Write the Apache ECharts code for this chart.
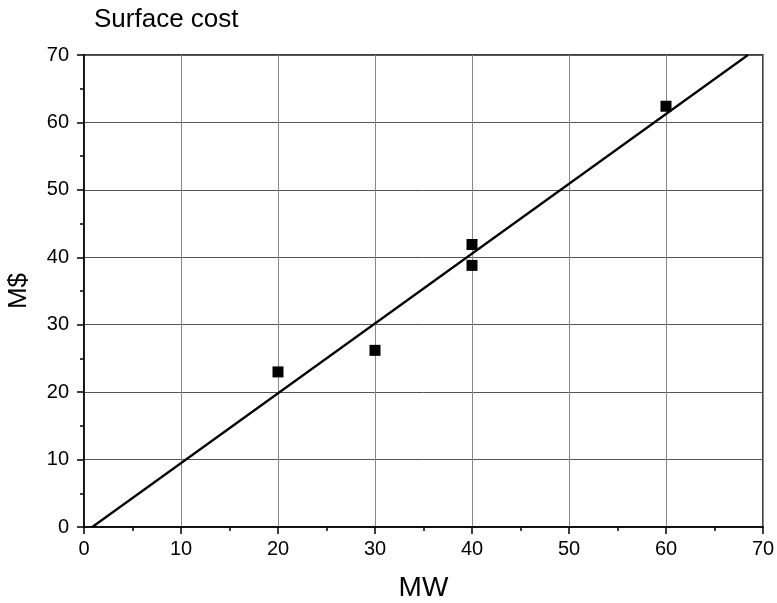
<!DOCTYPE html>
<html><head><meta charset="utf-8">
<script src="https://cdn.jsdelivr.net/npm/echarts@6/dist/echarts.min.js"></script>
<style>html,body{margin:0;padding:0;background:#fff}#c{width:777px;height:603px}</style>
</head><body><div id="c"></div>
<script>
const pointX = [20, 30, 40, 40, 60];
const pointY = [23.0, 26.2, 41.9, 38.8, 62.4];
const fitX = [0.85, 68.45];
const fitY = [0, 70];
const titleText = 'Surface cost';
const xName = 'MW';
const yName = 'M$';

const chart = echarts.init(document.getElementById('c'));
const font = 'Liberation Sans, Arial, sans-serif';
const axisCommon = {
  min: 0, max: 70, interval: 10,
  axisLine: { show: true, onZero: false, lineStyle: { color: '#000', width: 1.5 } },
  axisTick: { show: true, inside: false, length: 7, lineStyle: { color: '#000', width: 1.5 } },
  minorTick: { show: true, splitNumber: 2, length: 4, lineStyle: { color: '#000', width: 1.5 } }
};
chart.setOption({
  animation: false,
  backgroundColor: '#fff',
  title: { text: titleText, left: 89, top: 2, textStyle: { fontSize: 26, fontWeight: 'normal', color: '#000', fontFamily: font } },
  grid: { left: 84, right: 14, top: 55, bottom: 76, containLabel: false, outerBoundsMode: 'none',
    show: true, borderColor: '#000', borderWidth: 1.5, backgroundColor: 'transparent' },
  xAxis: Object.assign({}, axisCommon, {
    type: 'value', name: xName, nameLocation: 'middle', nameGap: 47,
    nameTextStyle: { color: '#000', fontSize: 28, fontFamily: font },
    axisLabel: { color: '#000', fontSize: 20, fontFamily: font, margin: 12 },
    splitLine: { show: true, lineStyle: { color: '#888', width: 1 } }
  }),
  yAxis: Object.assign({}, axisCommon, {
    type: 'value', name: yName, nameLocation: 'middle', nameGap: 52,
    nameTextStyle: { color: '#000', fontSize: 26, fontFamily: font },
    axisLabel: { color: '#000', fontSize: 20, fontFamily: font, margin: 15 },
    splitLine: { show: true, lineStyle: { color: '#555', width: 1 } }
  }),
  series: [
    { type: 'line', data: fitX.map((x, i) => [x, fitY[i]]), symbol: 'none',
      lineStyle: { color: '#000', width: 2.2 }, z: 3 },
    { type: 'scatter', data: pointX.map((x, i) => [x, pointY[i]]), symbol: 'rect', symbolSize: 11,
      itemStyle: { color: '#000', opacity: 1 }, z: 4 }
  ]
});
</script></body></html>
